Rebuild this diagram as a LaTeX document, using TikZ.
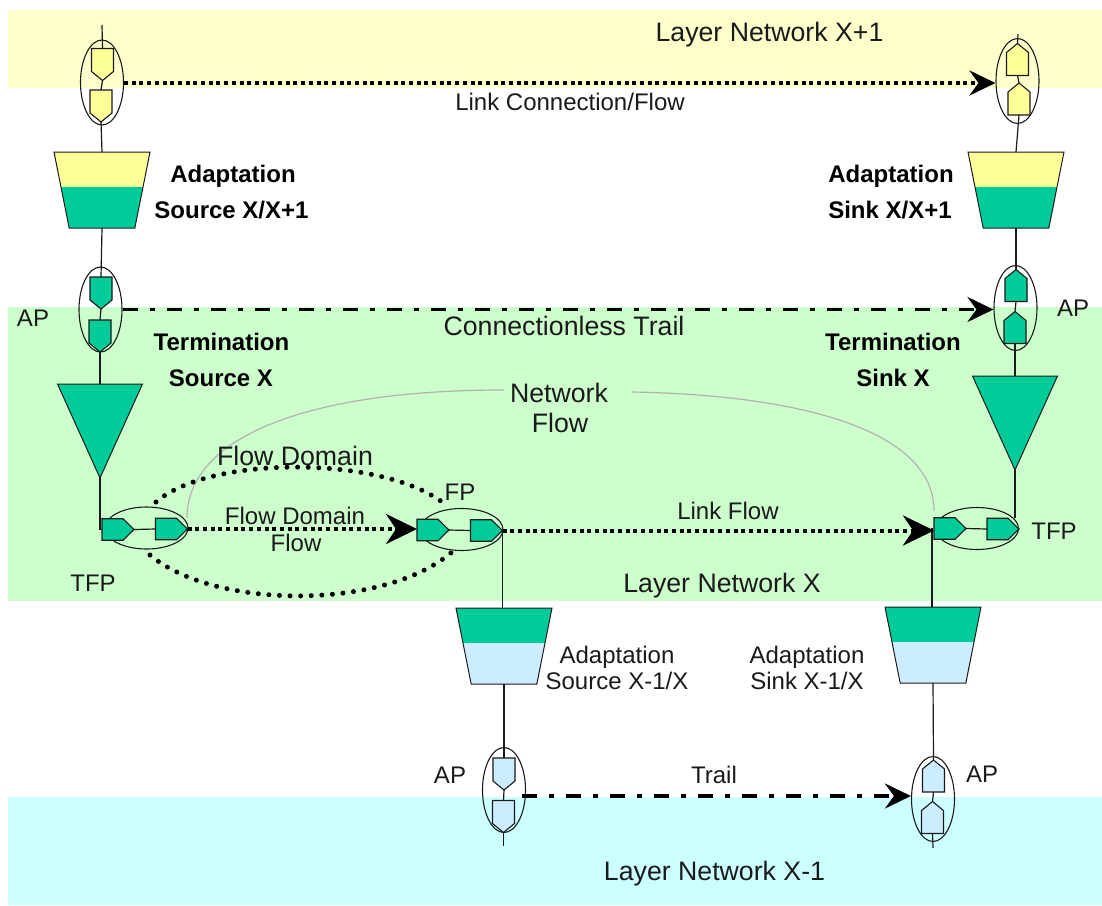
\documentclass[tikz,border=0pt]{standalone}
\usepackage{fontspec}
\setmainfont{Liberation Sans}
\usetikzlibrary{shapes.geometric,arrows.meta,calc}
\definecolor{bandY}{HTML}{FFFFCC}
\definecolor{bandG}{HTML}{CCFFCC}
\definecolor{bandC}{HTML}{CCFFFF}
\definecolor{teal}{HTML}{00CC99}
\definecolor{paleY}{HTML}{FFFF99}
\definecolor{paleB}{HTML}{CCECFF}
\definecolor{ink}{HTML}{1A1A1A}
\newcommand{\fsz}[1]{\fontsize{#1}{#1}\selectfont}
\makeatletter
\newdimen\pxa \newdimen\pxb \newdimen\pya \newdimen\pyb \newdimen\pxm \newdimen\pym
\newcommand{\defport}[2]{%
\pgfdeclareshape{#1}{%
  \inheritsavedanchors[from=rectangle]%
  \inheritanchorborder[from=rectangle]%
  \inheritanchor[from=rectangle]{center}%
  \inheritanchor[from=rectangle]{north}%
  \inheritanchor[from=rectangle]{south}%
  \inheritanchor[from=rectangle]{east}%
  \inheritanchor[from=rectangle]{west}%
  \backgroundpath{%
    \southwest \pxa=\pgf@x \pya=\pgf@y
    \northeast \pxb=\pgf@x \pyb=\pgf@y
    \pxm=.5\pxa \advance\pxm by .5\pxb
    \pym=.5\pya \advance\pym by .5\pyb
    #2%
    \pgfpathclose
  }%
}}
\defport{portdown}{%
  \pgfpathmoveto{\pgfqpoint{\pxa}{\pyb}}%
  \pgfpathlineto{\pgfqpoint{\pxb}{\pyb}}%
  \pgfpathlineto{\pgfpoint{\pxb}{\pya+9pt}}%
  \pgfpathlineto{\pgfqpoint{\pxm}{\pya}}%
  \pgfpathlineto{\pgfpoint{\pxa}{\pya+9pt}}}
\defport{portup}{%
  \pgfpathmoveto{\pgfqpoint{\pxa}{\pya}}%
  \pgfpathlineto{\pgfqpoint{\pxb}{\pya}}%
  \pgfpathlineto{\pgfpoint{\pxb}{\pyb-9pt}}%
  \pgfpathlineto{\pgfqpoint{\pxm}{\pyb}}%
  \pgfpathlineto{\pgfpoint{\pxa}{\pyb-9pt}}}
\defport{portright}{%
  \pgfpathmoveto{\pgfqpoint{\pxa}{\pya}}%
  \pgfpathlineto{\pgfqpoint{\pxa}{\pyb}}%
  \pgfpathlineto{\pgfpoint{\pxb-11pt}{\pyb}}%
  \pgfpathlineto{\pgfqpoint{\pxb}{\pym}}%
  \pgfpathlineto{\pgfpoint{\pxb-11pt}{\pya}}}
\makeatother
\tikzset{
  x=1pt,y=-1pt,
  band/.style={fill=#1,draw=none},
  wire/.style={draw=ink,line width=1.2pt},
  port/.style={draw=ink,line width=1.1pt,fill=#1,inner sep=0pt,outer sep=0pt},
  pdown/.style={port=#1,shape=portdown,minimum width=22pt,minimum height=32pt},
  pup/.style={port=#1,shape=portup,minimum width=22pt,minimum height=32pt},
  pright/.style={port=#1,shape=portright,minimum width=32pt,minimum height=21.5pt},
  vring/.style={draw=ink,line width=1.1pt,ellipse,inner sep=0pt,minimum width=43pt,minimum height=85pt},
  hring/.style={draw=ink,line width=1.1pt,ellipse,inner sep=0pt,minimum width=83pt,minimum height=42pt},
  adapt/.style n args={3}{draw=ink,line width=1pt,trapezium,trapezium stretches=true,shape border rotate=180,
     trapezium left angle=77,trapezium right angle=77,inner sep=1pt,outer sep=0pt,minimum width=96pt,minimum height=76pt,
     path picture={\fill[#1] (path picture bounding box.north west) rectangle ($(path picture bounding box.east)+(0,#3)$);
                   \fill[#2] ($(path picture bounding box.west)+(0,#3)$) rectangle (path picture bounding box.south east);}},
  term/.style={draw=ink,line width=1pt,fill=teal,isosceles triangle,isosceles triangle stretches=true,shape border rotate=-90,
     inner sep=1pt,outer sep=0pt,minimum width=85pt,minimum height=94pt,anchor=apex},
  dotline/.style={line width=4pt,draw=black,dash pattern=on 4pt off 3.7pt},
  dashdot/.style={line width=3.6pt,draw=black,dash pattern=on 15pt off 12pt on 5pt off 12pt},
  headS/.style={-{Stealth[length=26pt,width=25pt,inset=9pt]}},
  headL/.style={-{Stealth[length=31pt,width=30pt,inset=10pt]}},
  rounddots/.style={line width=5pt,draw=black,line cap=round,dash pattern=on 0pt off 10.6pt},
  netcurve/.style={draw=black!30,line width=1.2pt},
  lab/.style={inner sep=0pt,outer sep=0pt,text=ink,font=\fsz{#1}},
  blab/.style={inner sep=0pt,outer sep=0pt,text=black,font=\fsz{#1}\bfseries},
}
\begin{document}
\begin{tikzpicture}
\useasboundingbox (0,0) rectangle (1102,905);
\fill[white] (0,0) rectangle (1102,905);
\fill[band=bandY] (8,10) rectangle (1102,88);
\fill[band=bandG] (8,307) rectangle (1102,601);
\fill[band=bandC] (8,797) rectangle (1102,905);

% adaptation
\node[adapt={paleY}{teal}{3pt}] (adTL) at (102,190) {};
\node[adapt={paleY}{teal}{3pt}] (adTR) at (1016,190) {};
\node[adapt={teal}{paleB}{3pt}] (adML) at (504,646) {};
\node[adapt={teal}{paleB}{3pt}] (adMR) at (933,645) {};
% termination
\node[term] (trL) at (100,478) {};
\node[term] (trR) at (1015,470) {};

% rings, behind the ports
\node[vring] (ra) at (102,82.5) {};
\node[vring] (rb) at (1017.5,81) {};
\node[vring] (rc) at (100.5,309.5) {};
\node[vring] (rd) at (1015.5,308) {};
\node[vring] (re) at (504,790) {};
\node[vring] (rf) at (933,799) {};
\node[hring] (rg) at (146.5,528) {};
\node[hring] (rh) at (461.5,529.5) {};
\node[hring] (ri) at (977,528.5) {};

% free ends
\coordinate (topa) at (102,25);
\coordinate (topb) at (1018,34);
\coordinate (bote) at (503.5,846);
\coordinate (botf) at (933,848);
\coordinate (kneeR) at (932,528);
\coordinate (startTrail) at (522,796);

% ports
\node[pdown=paleY] (a1) at (102.5,64.5) {};
\node[pdown=paleY] (a2) at (101,106) {};
\node[pup=paleY] (b1) at (1017.5,59.5) {};
\node[pup=paleY] (b2) at (1019,99) {};
\node[pdown=teal] (c1) at (101,293) {};
\node[pdown=teal] (c2) at (100,336) {};
\node[pup=teal] (d1) at (1016,285.5) {};
\node[pup=teal] (d2) at (1015,327.5) {};
\node[pdown=paleB] (e1) at (504,774) {};
\node[pdown=paleB] (e2) at (503.5,816.5) {};
\node[pup=paleB] (f1) at (933.5,776) {};
\node[pup=paleB] (f2) at (932.5,817.5) {};
\node[pright=teal] (g1) at (118,529.5) {};
\node[pright=teal] (g2) at (171.5,529) {};
\node[pright=teal] (h1) at (433,530) {};
\node[pright=teal] (h2) at (486.5,530.5) {};
\node[pright=teal] (i1) at (950,528.5) {};
\node[pright=teal] (i2) at (1003,529) {};

% wires
\draw[wire] (topa) -- (a1.north);
\draw[wire] (a1.south) -- (a2.north);
\draw[wire] (a2.south) -- (adTL.north);
\draw[wire] (topb) -- (b1.north);
\draw[wire] (b1.south) -- (b2.north);
\draw[wire] (b2.south) -- (adTR.north);
\draw[wire] (adTL.south) -- (c1.north);
\draw[wire] (c1.south) -- (c2.north);
\draw[wire] (c2.south) -- (trL.north);
\draw[wire] (adTR.south) -- (d1.north);
\draw[wire] (d1.south) -- (d2.north);
\draw[wire] (d2.south) -- (trR.north);
\draw[wire] (adML.south) -- (e1.north);
\draw[wire] (e1.south) -- (e2.north);
\draw[wire] (e2.south) -- (bote);
\draw[wire] (adMR.south) -- (f1.north);
\draw[wire] (f1.south) -- (f2.north);
\draw[wire] (f2.south) -- (botf);
\draw[wire] (trL.apex) |- (g1.west);
\draw[wire] (g1.east) -- (g2.west);
\draw[wire] (h1.east) -- (h2.west);
\draw[wire] (i1.east) -- (i2.west);
\draw[wire] (h2.east) -- (adML.north -| h2.east);
\draw[wire] (trR.apex) -- (i2.north -| trR.apex);
\draw[wire,line width=2.2pt] (kneeR) -- (adMR.north -| kneeR);

% network flow curves
\node[lab=26.7] (nf1) at (559,393) {Network};
\node[lab=26.7] (nf2) at (560,423) {Flow};
\coordinate (cl) at (187,518);
\coordinate (cr) at (934,511);
\draw[netcurve] (cl) .. controls (187,440) and (300,390) .. ($(nf1.west)+(-6,-3)$);
\draw[netcurve] (cr) .. controls (934,430) and (800,395) .. ($(nf1.east)+(24,-1)$);

% flow domain dots
\coordinate (da) at (156,502);
\coordinate (db) at (446,505);
\coordinate (dc) at (150,555);
\coordinate (dd) at (452,552);
\draw[rounddots] (da) .. controls (210,455) and (385,455) .. (db);
\draw[rounddots] (dc) .. controls (215,610) and (385,610) .. (dd);

% arrows
\draw[dotline,headS] (ra.east |- 0,83) -- (rb.west |- 0,83);
\draw[dashdot,headS] (rc.east) -- (rd.west |- rc.east);
\draw[dashdot,headS] (startTrail) -- (rf.west |- startTrail);
\draw[dotline,headL] (g2.east) -- (h1.west |- g2.east);
\draw[dotline,headL] (h2.east) -- (i1.west |- h2.east);

% labels
\node[lab=26.7] (t1) at (769.5,35) {Layer Network X+1};
\node[lab=24] (t2) at (570,102) {Link Connection/Flow};
\node[blab=24] (t3) at (233,176) {Adaptation};
\node[blab=24] (t4) at (231.5,210) {Source X/X+1};
\node[blab=24] (t5) at (891,176) {Adaptation};
\node[blab=24] (t6) at (890,210) {Sink X/X+1};
\node[lab=24] (t7) at (33,318) {AP};
\node[lab=24] (t8) at (1073,308) {AP};
\node[lab=26.7] (t9) at (564,326) {Connectionless Trail};
\node[blab=24] (t10) at (221.5,342) {Termination};
\node[blab=24] (t11) at (221,378) {Source X};
\node[blab=24] (t12) at (893,342) {Termination};
\node[blab=24] (t13) at (893,378) {Sink X};
\node[lab=26.7] (t14) at (295,456) {Flow Domain};
\node[lab=24] (t15) at (295,516) {Flow Domain};
\node[lab=24] (t16) at (296,543) {Flow};
\node[lab=24] (t17) at (460,492) {FP};
\node[lab=24] (t18) at (728,511) {Link Flow};
\node[lab=24] (t19) at (93,583) {TFP};
\node[lab=24] (t20) at (1054,531) {TFP};
\node[lab=26.7] (t21) at (722,586) {Layer Network X};
\node[lab=24] (t22) at (617,657) {Adaptation};
\node[lab=24] (t23) at (617,681) {Source X-1/X};
\node[lab=24] (t24) at (807,657) {Adaptation};
\node[lab=24] (t25) at (807,681) {Sink X-1/X};
\node[lab=24] (t26) at (450,775) {AP};
\node[lab=24] (t27) at (714,775) {Trail};
\node[lab=24] (t28) at (982,774) {AP};
\node[lab=26.7] (t29) at (714.5,873.5) {Layer Network X-1};
\end{tikzpicture}
\end{document}
